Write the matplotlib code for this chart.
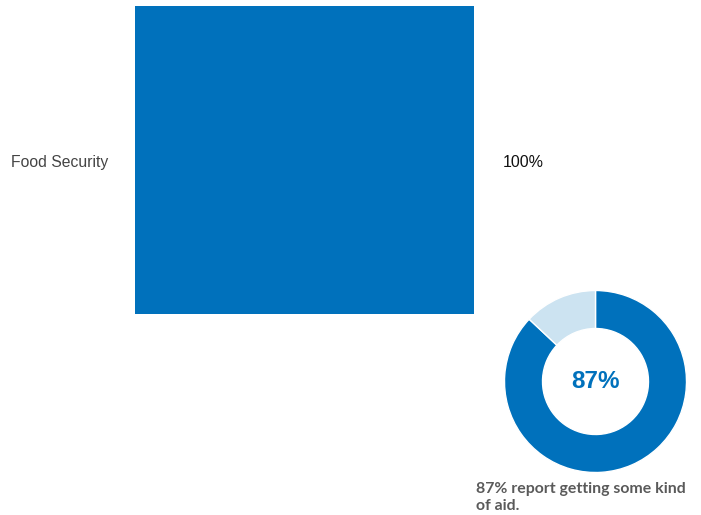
import matplotlib
matplotlib.use('Agg')
import matplotlib.pyplot as plt

# data
categories = ['Food Security']
values = [100]
aid_share = [87, 13]
center_label = '87%'
caption = '87% report getting some kind\nof aid.'

blue = '#0071bc'
light = '#cce3f1'

W, H = 701, 515
fig = plt.figure(figsize=(W / 100, H / 100), dpi=100)
fig.patch.set_facecolor('white')

# bar panel
ax = fig.add_axes([135 / W, 1 - 314 / H, (474 - 135) / W, (314 - 6) / H])
ax.barh(categories, values, height=1.0, color=blue)
ax.set_xlim(0, 100)
ax.set_ylim(0.5, -0.5)
ax.axis('off')
for i, (c, v) in enumerate(zip(categories, values)):
    ax.text(-124 / 339 * 100, i + 0.007, c, ha='left', va='center', fontsize=11.3,
            color='#444444', family='Liberation Sans')
    ax.text(v + 29 / 339 * 100, i + 0.007, f'{v}%', ha='left', va='center', fontsize=11.5,
            color='#111111', family='Liberation Sans')

# donut
r = 91
ax2 = fig.add_axes([(595.5 - r) / W, 1 - (381.5 + r) / H, 2 * r / W, 2 * r / H])
ax2.pie(aid_share, colors=[blue, light], startangle=90, counterclock=False,
        radius=1.0, wedgeprops=dict(width=1 - 53 / 91, edgecolor='white', linewidth=1))
ax2.set_xlim(-1, 1)
ax2.set_ylim(-1, 1)
ax2.set_aspect('equal')
ax2.text(0, 0, center_label, ha='center', va='center', fontsize=17.5,
         fontweight='bold', color=blue, family='Liberation Sans')

fig.text(476 / W, 1 - 497.5 / H, caption, ha='left', va='center', fontsize=11.4,
         fontweight='bold', color='#5a5a5a', family='Lato', linespacing=1.3)

fig.savefig('out.png', dpi=100)
